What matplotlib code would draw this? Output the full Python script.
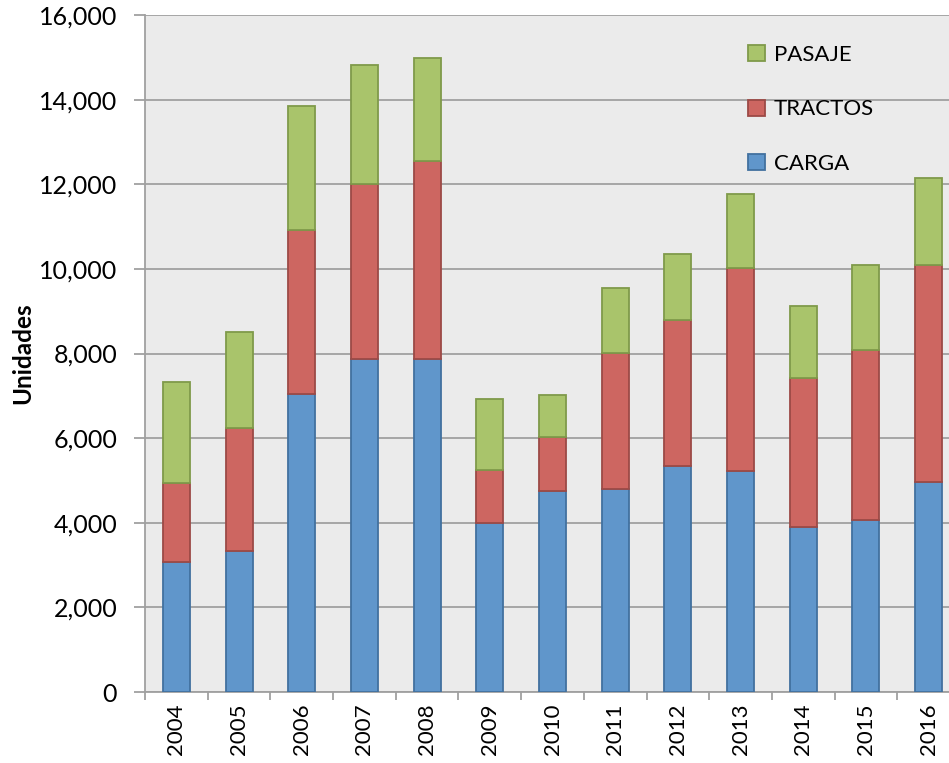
import numpy as np
import matplotlib
matplotlib.use("Agg")
import matplotlib.pyplot as plt
from matplotlib.ticker import FuncFormatter

years = ['2004', '2005', '2006', '2007', '2008', '2009', '2010',
         '2011', '2012', '2013', '2014', '2015', '2016']
carga = [3080, 3340, 7050, 7880, 7860, 4000, 4760, 4800, 5350, 5230, 3900, 4070, 4970]
tractos = [1870, 2910, 3880, 4120, 4680, 1250, 1270, 3220, 3430, 4780, 3530, 4020, 5110]
pasaje = [2370, 2250, 2910, 2820, 2440, 1680, 1000, 1520, 1560, 1750, 1700, 1990, 2060]

plt.rcParams['font.family'] = ['Lato', 'DejaVu Sans']

fig = plt.figure(figsize=(9.49, 7.63), dpi=100)
ax = fig.add_axes([145/949, 71/763, 815/949, 677/763])
ax.set_facecolor('#ebebeb')

x = np.arange(len(years))
w = 0.43
carga = np.array(carga)
tractos = np.array(tractos)
pasaje = np.array(pasaje)
b1 = ax.bar(x, carga, w, color='#6096cb', edgecolor='#42719f', linewidth=1.3, label='CARGA', zorder=3)
b2 = ax.bar(x, tractos, w, bottom=carga, color='#cd6661', edgecolor='#9c4a46', linewidth=1.3, label='TRACTOS', zorder=3)
b3 = ax.bar(x, pasaje, w, bottom=carga + tractos, color='#a9c46b', edgecolor='#7f9a4a', linewidth=1.3, label='PASAJE', zorder=3)

ax.set_xlim(-0.5, len(years) - 0.5)
ax.set_ylim(0, 16000)
ax.set_yticks(np.arange(0, 16001, 2000))
ax.yaxis.set_major_formatter(FuncFormatter(lambda v, p: f'{int(v):,}'))
ax.yaxis.grid(True, color='#a0a0a0', linewidth=1.3, zorder=0)
ax.set_axisbelow(True)

ax.set_xticks(x)
ax.set_xticklabels(years, rotation=90, fontsize=16)
ax.set_xticks(np.arange(-0.5, len(years)), minor=True)
ax.tick_params(axis='x', which='major', length=0, pad=8)
ax.tick_params(axis='x', which='minor', length=6, width=1.3, color='#a0a0a0')
ax.tick_params(axis='y', length=8, width=1.3, color='#a0a0a0', labelsize=18, pad=12)

for s in ['top', 'right']:
    ax.spines[s].set_visible(False)
for s in ['left', 'bottom']:
    ax.spines[s].set_color('#a0a0a0')
    ax.spines[s].set_linewidth(1.3)

ax.set_ylabel('Unidades', fontsize=17.5, fontweight='bold', labelpad=3)

leg = ax.legend(handles=[b3, b2, b1], loc='upper left', bbox_to_anchor=(728/949, 1 - 25/763),
                bbox_transform=fig.transFigure, frameon=False, fontsize=16,
                handlelength=0.75, handleheight=0.75, handletextpad=0.4, labelspacing=1.55)

fig.savefig('out.png', dpi=100)
